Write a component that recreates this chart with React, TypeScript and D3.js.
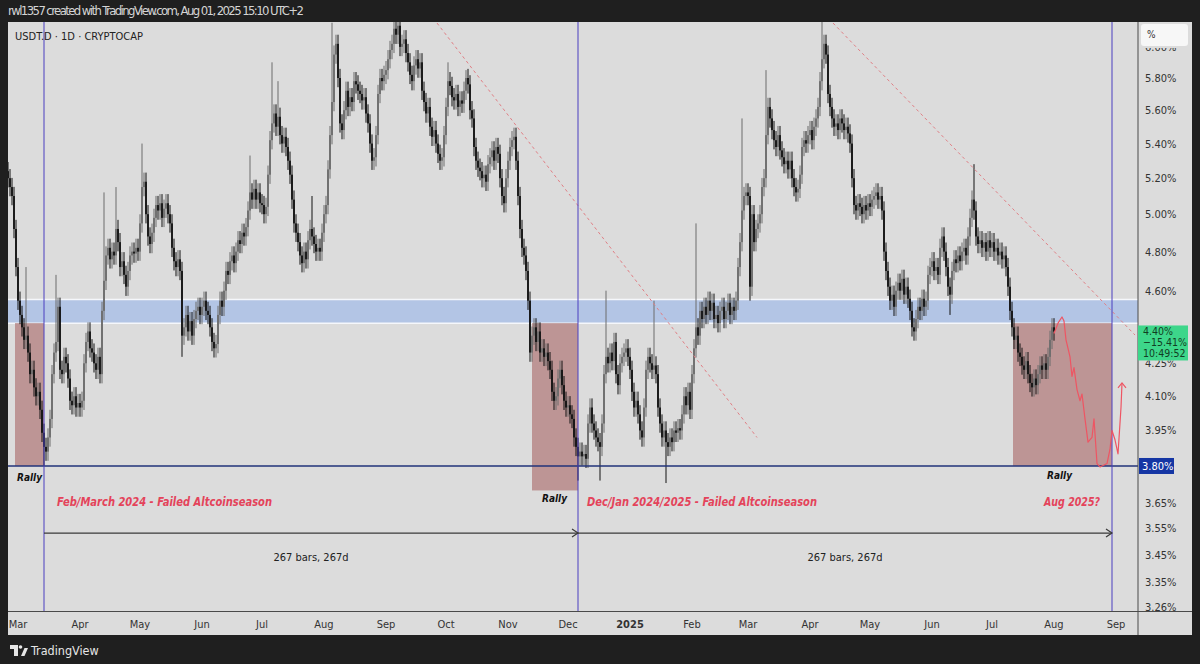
import * as d3 from "d3";
import { useEffect, useRef } from "react";

const W = 1200;
const H = 664;
const FONT = "'Liberation Sans Narrow', 'DejaVu Sans Condensed', Roboto, sans-serif";

// USDT.D daily closes (%), one array per month
const firstDay = "2024-02-25";
const firstOpen = 5.24;
const feb2024 = [5.2, 5.15, 5.1, 4.92, 4.72];
const mar2024 = [4.55, 4.48, 4.42, 4.36, 4.38, 4.3, 4.2, 4.22, 4.14, 4.1, 4.12, 4.04, 3.94, 3.88, 3.86, 3.92,
  4.0, 4.2, 4.3, 4.35, 4.52, 4.22, 4.2, 4.28, 4.25, 4.18, 4.08, 4.06, 4.1, 4.05, 4.07];
const apr2024 = [4.05, 4.08, 4.25, 4.35, 4.4, 4.32, 4.3, 4.25, 4.22, 4.28, 4.2, 4.5, 4.65, 4.78, 4.82,
  4.76, 4.8, 4.78, 4.92, 4.85, 4.72, 4.75, 4.68, 4.62, 4.7, 4.78, 4.8, 4.79, 4.82, 4.8];
const may2024 = [4.95, 5.15, 5.18, 5.0, 4.88, 4.84, 4.9, 4.98, 5.05, 5.02, 5.06, 4.98, 5.03, 5.06, 5.0, 4.95,
  4.82, 4.75, 4.72, 4.76, 4.7, 4.38, 4.42, 4.48, 4.4, 4.45, 4.38, 4.46, 4.5, 4.52, 4.48];
const jun2024 = [4.52, 4.55, 4.5, 4.48, 4.42, 4.35, 4.32, 4.34, 4.48, 4.55, 4.52, 4.6, 4.7, 4.68, 4.75,
  4.78, 4.74, 4.8, 4.86, 4.84, 4.9, 4.88, 4.93, 5.02, 5.12, 5.08, 5.14, 5.08, 5.12, 5.06];
const jul2024 = [5.05, 5.0, 5.04, 5.22, 5.42, 5.52, 5.58, 5.5, 5.56, 5.45, 5.4, 5.44, 5.38, 5.3, 5.22, 5.08,
  4.95, 4.9, 4.85, 4.78, 4.74, 4.8, 4.76, 4.86, 4.92, 4.88, 4.84, 4.8, 4.82, 4.8, 4.9];
const aug2024 = [5.0, 5.05, 5.25, 5.45, 5.65, 5.95, 6.02, 5.8, 5.52, 5.48, 5.6, 5.72, 5.62, 5.68, 5.65, 5.78,
  5.76, 5.72, 5.7, 5.66, 5.68, 5.58, 5.52, 5.4, 5.3, 5.32, 5.45, 5.7, 5.8, 5.78, 5.82];
const sep2024 = [5.85, 5.92, 5.98, 6.02, 6.12, 6.08, 6.14, 6.0, 6.02, 6.05, 5.96, 5.9, 5.82, 5.78, 5.88,
  5.92, 5.86, 5.9, 5.72, 5.65, 5.58, 5.62, 5.5, 5.44, 5.48, 5.4, 5.34, 5.3, 5.32, 5.45];
const oct2024 = [5.62, 5.78, 5.75, 5.68, 5.66, 5.7, 5.62, 5.66, 5.64, 5.72, 5.8, 5.76, 5.6, 5.55, 5.38, 5.3,
  5.26, 5.24, 5.2, 5.22, 5.18, 5.28, 5.32, 5.36, 5.3, 5.38, 5.34, 5.2, 5.1, 5.06, 5.2];
const nov2024 = [5.3, 5.38, 5.42, 5.44, 5.3, 5.1, 4.92, 4.82, 4.78, 4.7, 4.55, 4.3, 4.38, 4.42, 4.35,
  4.4, 4.3, 4.32, 4.28, 4.3, 4.26, 4.22, 4.12, 4.08, 4.1, 4.18, 4.22, 4.15, 4.08, 4.05];
const dec2024 = [4.06, 4.02, 4.0, 3.92, 3.88, 3.84, 3.86, 3.84, 3.85, 3.83, 3.98, 4.05, 3.98, 3.95, 3.92, 3.9,
  3.88, 3.98, 4.2, 4.28, 4.25, 4.3, 4.26, 4.35, 4.2, 4.15, 4.25, 4.28, 4.3, 4.32, 4.28];
const jan2025 = [4.22, 4.12, 4.05, 4.08, 4.02, 3.95, 3.92, 4.05, 4.22, 4.28, 4.25, 4.22, 4.24, 4.2, 4.05, 3.98,
  3.92, 3.95, 3.9, 3.88, 3.92, 3.9, 3.95, 3.94, 3.96, 3.95, 4.02, 4.1, 4.06, 4.12, 4.04];
const feb2025 = [4.2, 4.32, 4.42, 4.38, 4.5, 4.46, 4.52, 4.48, 4.55, 4.5, 4.54, 4.46, 4.48, 4.44,
  4.5, 4.52, 4.46, 4.5, 4.54, 4.48, 4.52, 4.5, 4.55, 4.72, 4.85, 5.02, 5.1, 5.12];
const mar2025 = [5.1, 4.62, 5.0, 4.85, 4.92, 4.95, 5.0, 5.15, 5.2, 5.45, 5.62, 5.55, 5.48, 5.42, 5.38, 5.45,
  5.36, 5.32, 5.28, 5.3, 5.25, 5.3, 5.2, 5.15, 5.12, 5.14, 5.22, 5.38, 5.42, 5.4, 5.45];
const apr2025 = [5.48, 5.42, 5.5, 5.55, 5.62, 5.78, 5.92, 6.02, 5.95, 5.7, 5.62, 5.55, 5.5, 5.52, 5.48,
  5.55, 5.52, 5.48, 5.5, 5.46, 5.4, 5.2, 5.05, 5.02, 5.06, 5.04, 5.0, 5.05, 5.02, 5.06];
const may2025 = [5.04, 5.08, 5.1, 5.12, 5.08, 5.1, 5.02, 4.8, 4.7, 4.62, 4.55, 4.58, 4.52, 4.6, 4.64, 4.6,
  4.66, 4.58, 4.62, 4.56, 4.5, 4.42, 4.4, 4.46, 4.52, 4.5, 4.56, 4.52, 4.55, 4.68, 4.72];
const jun2025 = [4.75, 4.7, 4.72, 4.68, 4.82, 4.88, 4.8, 4.72, 4.62, 4.58, 4.7, 4.76, 4.74, 4.78, 4.75,
  4.8, 4.82, 4.78, 4.88, 4.98, 5.08, 5.02, 4.88, 4.84, 4.86, 4.82, 4.85, 4.8, 4.86, 4.82];
const jul2025 = [4.85, 4.8, 4.82, 4.78, 4.8, 4.76, 4.78, 4.72, 4.62, 4.5, 4.42, 4.36, 4.38, 4.3, 4.28, 4.24,
  4.22, 4.26, 4.2, 4.16, 4.14, 4.18, 4.15, 4.2, 4.24, 4.22, 4.25, 4.22, 4.28, 4.36, 4.42];
const aug2025 = [4.4];

// long wicks that stand out
const wickHighDates = ["2024-03-05", "2024-03-20", "2024-04-13", "2024-04-19", "2024-05-02", "2024-06-25",
  "2024-07-06", "2024-07-09", "2024-07-26", "2024-08-05", "2024-09-05", "2024-10-02", "2024-10-11",
  "2024-12-20", "2025-01-13", "2025-02-03", "2025-02-26", "2025-03-10", "2025-04-07", "2025-06-22"];
const wickHighs = [4.72, 4.68, 5.12, 5.15, 5.4, 5.33, 5.9, 5.78, 5.1, 6.16, 6.17, 5.9, 5.85,
  4.6, 4.55, 4.95, 5.55, 5.85, 6.17, 5.28];
const wickLowDates = ["2024-03-14", "2024-05-22", "2024-12-06", "2024-12-17", "2025-01-19", "2025-03-02", "2025-06-10"];
const wickLows = [3.8, 4.28, 3.74, 3.74, 3.73, 4.55, 4.48];

const priceTicks = [3.26, 3.35, 3.45, 3.55, 3.65, 3.95, 4.1, 4.25, 4.6, 4.8, 5.0, 5.2, 5.4, 5.6, 5.8, 6.0];
const lastPrice = 4.4;
const lastLabel = ["4.40%", "\u221215.41%", "10:49:52"];

// drawings
const markerDates = ["2024-03-14", "2024-12-06", "2025-08-30"];
const supportPrice = 3.8;
const bandPrices = [4.44, 4.556];
const boxStarts = ["2024-02-28T12:00", "2024-11-13", "2025-07-11T12:00"];
const boxBottoms = [3.8, 3.7, 3.8];
const dashedLines = [
  [["2024-09-26T12:00", 6.158], ["2025-03-05T12:00", 3.92]],
  [["2025-04-12T12:00", 6.158], ["2025-09-10T12:00", 4.383]],
];
const projDates = ["2025-08-01", "2025-08-03", "2025-08-05", "2025-08-06", "2025-08-07", "2025-08-09", "2025-08-10",
  "2025-08-11", "2025-08-12T12:00", "2025-08-14", "2025-08-15", "2025-08-16T12:00", "2025-08-18", "2025-08-20",
  "2025-08-21", "2025-08-22T12:00", "2025-08-24", "2025-08-27T12:00", "2025-08-29", "2025-08-30", "2025-08-31T12:00",
  "2025-09-02", "2025-09-03T12:00", "2025-09-04"];
const projPrices = [4.39, 4.44, 4.47, 4.45, 4.36, 4.28, 4.19, 4.23, 4.13, 4.08, 4.11, 4.0, 3.9, 3.92,
  4.0, 3.81, 3.796, 3.81, 3.87, 3.95, 3.91, 3.85, 4.05, 4.16];
const measurePrice = 3.532;
const measureText = "267 bars, 267d";
const measureTextPrice = 3.426;
const rallyPos = [["2024-02-29T12:00", 3.738], ["2024-11-18", 3.654], ["2025-07-28T12:00", 3.746]];
const seasonTexts = ["Feb/March 2024 - Failed Altcoinseason", "Dec/Jan 2024/2025 - Failed Altcoinseason", "Aug 2025?"];
const seasonPos = [["2024-03-20T12:00", 3.638], ["2024-12-10T12:00", 3.638], ["2025-08-24", 3.638]];
const seasonWidths = [215, 230, 56];

const dt = (s: string) => new Date(s.length > 10 ? s + "Z" : s + "T00:00:00Z");

export default function App() {
  const ref = useRef<SVGSVGElement>(null);

  useEffect(() => {
    if (!ref.current) return;
    const svg = d3.select(ref.current);
    svg.selectAll("*").remove();

    const plot = { left: 8, right: 1138, top: 22, bottom: 611 };
    const x = d3.scaleUtc().domain([dt("2024-03-01"), dt("2025-09-01")]).range([18, 1116]);
    const y = d3.scaleLog().domain([3.248, 6.165]).range([610, 22]);

    const closes = [feb2024, mar2024, apr2024, may2024, jun2024, jul2024, aug2024, sep2024, oct2024, nov2024,
      dec2024, jan2025, feb2025, mar2025, apr2025, may2025, jun2025, jul2025, aug2025].flat();
    const highMap = new Map(wickHighDates.map((d, i) => [d, wickHighs[i]]));
    const lowMap = new Map(wickLowDates.map((d, i) => [d, wickLows[i]]));
    const key = d3.utcFormat("%Y-%m-%d");
    const wickPad = 0.01;
    const t0 = dt(firstDay);
    const candles = closes.map((c, i) => {
      const date = d3.utcDay.offset(t0, i);
      const o = i === 0 ? firstOpen : closes[i - 1];
      const top = Math.max(o, c);
      const bot = Math.min(o, c);
      return {
        date, o, c, top, bot,
        h: Math.max(highMap.get(key(date)) ?? top * (1 + wickPad), top),
        l: Math.min(lowMap.get(key(date)) ?? bot * (1 - wickPad), bot),
      };
    });
    const upColor = "#6c6c6c";
    const downColor = "#121212";

    // frame
    svg.append("rect").attr("width", W).attr("height", H).attr("fill", "#1f1f1f");
    svg.append("rect").attr("x", 8).attr("y", 22).attr("width", 1184).attr("height", 613).attr("fill", "#dcdcdc");
    svg.append("text").attr("x", 8).attr("y", 15).attr("font-family", FONT).attr("font-size", 13)
      .attr("fill", "#d4d4d4").attr("textLength", 296)
      .text("rwl1357 created with TradingView.com, Aug 01, 2025 15:10 UTC+2");

    const defs = svg.append("defs");
    defs.append("clipPath").attr("id", "plotclip").append("rect")
      .attr("x", plot.left).attr("y", plot.top)
      .attr("width", plot.right - plot.left).attr("height", plot.bottom - plot.top);
    const g = svg.append("g").attr("clip-path", "url(#plotclip)");

    // blue zone
    g.append("rect").attr("x", plot.left).attr("width", plot.right - plot.left)
      .attr("y", y(bandPrices[1])).attr("height", y(bandPrices[0]) - y(bandPrices[1])).attr("fill", "#b3c5e5");
    g.selectAll("line.band").data(bandPrices).join("line").attr("class", "band")
      .attr("x1", plot.left).attr("x2", plot.right).attr("y1", (d) => y(d)).attr("y2", (d) => y(d))
      .attr("stroke", "#f5f7fb").attr("stroke-width", 1.5);

    // red boxes
    g.selectAll("rect.box").data(boxStarts).join("rect").attr("class", "box")
      .attr("x", (d) => x(dt(d)))
      .attr("width", (d, i) => x(dt(markerDates[i])) - x(dt(d)))
      .attr("y", y(bandPrices[0]))
      .attr("height", (d, i) => y(boxBottoms[i]) - y(bandPrices[0]))
      .attr("fill", "#bd9595");

    // candles
    const cg = g.append("g");
    cg.selectAll("line").data(candles).join("line")
      .attr("x1", (d) => x(d.date)).attr("x2", (d) => x(d.date))
      .attr("y1", (d) => y(d.h)).attr("y2", (d) => y(d.l))
      .attr("stroke", (d) => (d.c >= d.o ? upColor : downColor)).attr("stroke-width", 1);
    cg.selectAll("rect").data(candles).join("rect")
      .attr("x", (d) => x(d.date) - 0.9).attr("width", 1.8)
      .attr("y", (d) => y(d.top)).attr("height", (d) => Math.max(1, y(d.bot) - y(d.top)))
      .attr("fill", (d) => (d.c >= d.o ? upColor : downColor));

    // support line
    g.append("line").attr("x1", plot.left).attr("x2", plot.right)
      .attr("y1", y(supportPrice)).attr("y2", y(supportPrice))
      .attr("stroke", "#22337a").attr("stroke-width", 1.5);

    // dashed trend lines
    g.selectAll("line.trend").data(dashedLines).join("line").attr("class", "trend")
      .attr("x1", (d) => x(dt(d[0][0] as string))).attr("y1", (d) => y(d[0][1] as number))
      .attr("x2", (d) => x(dt(d[1][0] as string))).attr("y2", (d) => y(d[1][1] as number))
      .attr("stroke", "#e07f85").attr("stroke-width", 1).attr("stroke-dasharray", "3 3");

    // vertical markers
    svg.selectAll("line.marker").data(markerDates).join("line").attr("class", "marker")
      .attr("x1", (d) => x(dt(d))).attr("x2", (d) => x(dt(d)))
      .attr("y1", plot.top).attr("y2", plot.bottom)
      .attr("stroke", "#4a3fc0").attr("stroke-width", 1);

    // projection
    const proj = projDates.map((d, i) => [x(dt(d)), y(projPrices[i])] as [number, number]);
    svg.append("path").attr("d", d3.line()(proj)).attr("fill", "none")
      .attr("stroke", "#ee5563").attr("stroke-width", 1.2).attr("stroke-linejoin", "round");
    const tip = proj[proj.length - 1];
    svg.append("path").attr("d", `M${tip[0] - 4},${tip[1] + 5}L${tip[0]},${tip[1]}L${tip[0] + 4},${tip[1] + 5}`)
      .attr("fill", "none").attr("stroke", "#ee5563").attr("stroke-width", 1.2);

    // measure arrows
    for (let i = 0; i < 2; i++) {
      const x0 = x(dt(markerDates[i]));
      const x1 = x(dt(markerDates[i + 1]));
      const ym = y(measurePrice);
      svg.append("line").attr("x1", x0).attr("x2", x1).attr("y1", ym).attr("y2", ym)
        .attr("stroke", "#3a3a3a").attr("stroke-width", 1.2);
      svg.append("path").attr("d", `M${x1 - 6},${ym - 4}L${x1},${ym}L${x1 - 6},${ym + 4}`)
        .attr("fill", "none").attr("stroke", "#3a3a3a").attr("stroke-width", 1.2);
      svg.append("text").attr("x", (x0 + x1) / 2).attr("y", y(measureTextPrice))
        .attr("text-anchor", "middle").attr("font-family", FONT).attr("font-size", 11).attr("fill", "#222")
        .text(measureText);
    }

    // annotations
    svg.selectAll("text.rally").data(rallyPos).join("text").attr("class", "rally")
      .attr("x", (d) => x(dt(d[0] as string))).attr("y", (d) => y(d[1] as number))
      .attr("font-family", FONT).attr("font-size", 10).attr("font-weight", "bold").attr("font-style", "italic")
      .attr("fill", "#111").text("Rally");
    svg.selectAll("text.season").data(seasonTexts).join("text").attr("class", "season")
      .attr("x", (d, i) => x(dt(seasonPos[i][0] as string)))
      .attr("y", (d, i) => y(seasonPos[i][1] as number))
      .attr("text-anchor", (d, i) => (i === 2 ? "end" : "start"))
      .attr("textLength", (d, i) => seasonWidths[i]).attr("lengthAdjust", "spacingAndGlyphs")
      .attr("font-family", FONT).attr("font-size", 13).attr("font-weight", "bold").attr("font-style", "italic")
      .attr("fill", "#e4435a").text((d) => d);

    svg.append("text").attr("x", 15).attr("y", 40).attr("font-family", FONT).attr("font-size", 11)
      .attr("fill", "#222").text("USDT.D \u00b7 1D \u00b7 CRYPTOCAP");

    // axes frame
    svg.append("line").attr("x1", plot.right).attr("x2", plot.right).attr("y1", 22).attr("y2", 635)
      .attr("stroke", "#4a4a4a").attr("stroke-width", 1);
    svg.append("line").attr("x1", 8).attr("x2", 1192).attr("y1", plot.bottom + 0.5).attr("y2", plot.bottom + 0.5)
      .attr("stroke", "#4a4a4a").attr("stroke-width", 1);

    // price axis (labels partly hidden behind the boxes are clipped to what shows)
    const yl = y(lastPrice);
    const ys = y(supportPrice);
    const boxTop = yl - 6;
    const boxBottom = yl + 29;
    defs.append("clipPath").attr("id", "axisclip").append("path")
      .attr("d", `M1138,48H1200V${boxTop}H1138Z M1138,${boxBottom}H1200V${ys - 8}H1138Z M1138,${ys + 8}H1200V611H1138Z`);
    svg.append("g").attr("clip-path", "url(#axisclip)")
      .selectAll("text").data(priceTicks).join("text")
      .attr("x", 1145).attr("y", (d) => y(d) + 4)
      .attr("font-family", FONT).attr("font-size", 11).attr("fill", "#333")
      .text((d) => d3.format(".2f")(d) + "%");
    svg.append("rect").attr("x", 1141).attr("y", 24).attr("width", 47).attr("height", 22).attr("rx", 3).attr("fill", "#f7f7f7");
    svg.append("text").attr("x", 1147).attr("y", 38).attr("font-family", FONT).attr("font-size", 10)
      .attr("fill", "#333").text("%");

    svg.append("rect").attr("x", 1139).attr("y", ys - 8).attr("width", 35).attr("height", 16).attr("fill", "#1536a4");
    svg.append("text").attr("x", 1142).attr("y", ys + 4).attr("font-family", FONT).attr("font-size", 11)
      .attr("fill", "#fff").text("3.80%");

    svg.append("rect").attr("x", 1138).attr("y", boxTop).attr("width", 50).attr("height", boxBottom - boxTop).attr("fill", "#3dd68a");
    svg.selectAll("text.last").data(lastLabel).join("text").attr("class", "last")
      .attr("x", 1143).attr("y", (d, i) => yl + 4 + i * 11)
      .attr("font-family", FONT).attr("font-size", 10.5).attr("fill", "#123d23").text((d) => d);

    // time axis
    const months = d3.utcMonth.range(dt("2024-03-01"), dt("2025-09-02"));
    svg.selectAll("text.mtick").data(months).join("text").attr("class", "mtick")
      .attr("x", (d) => x(d)).attr("y", 628).attr("text-anchor", "middle")
      .attr("font-family", FONT).attr("font-size", 11).attr("fill", "#333")
      .attr("font-weight", (d) => (d.getUTCMonth() === 0 ? "bold" : "normal"))
      .text((d) => (d.getUTCMonth() === 0 ? d3.utcFormat("%Y")(d) : d3.utcFormat("%b")(d)));

    // footer logo
    const logo = svg.append("g").attr("fill", "#e6e6e6");
    logo.append("path").attr("d", "M10,645h8v11h-4v-7h-4z");
    logo.append("circle").attr("cx", 20.5).attr("cy", 647).attr("r", 1.8);
    logo.append("path").attr("d", "M21,656l3.5,-8h3.5l-3.5,8z");
    logo.append("text").attr("x", 31).attr("y", 655).attr("font-family", FONT).attr("font-size", 12.5)
      .attr("fill", "#e6e6e6").text("TradingView");
  }, []);

  return <svg ref={ref} width={W} height={H} style={{ position: "absolute", left: 0, top: 0, display: "block" }} />;
}
